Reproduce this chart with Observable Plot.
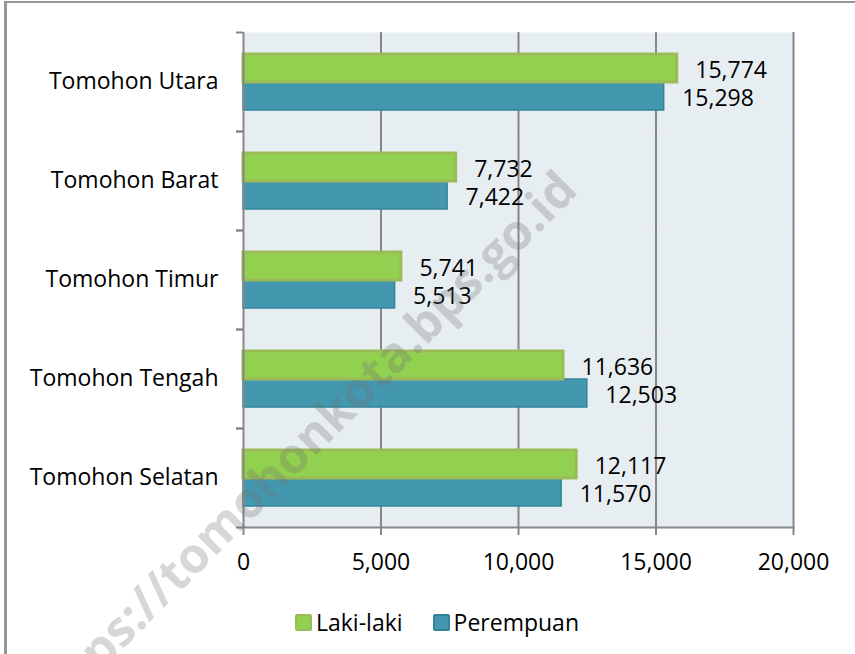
<!DOCTYPE html>
<html>
<head>
<meta charset="utf-8">
<script src="https://cdn.jsdelivr.net/npm/d3@7"></script>
<script src="https://cdn.jsdelivr.net/npm/@observablehq/plot@0.6"></script>
<style>
  html, body { margin: 0; padding: 0; background: #fff; overflow: hidden; }
  #wrap { position: relative; width: 855px; height: 654px; overflow: hidden; font-family: 'Open Sans', sans-serif; }
  #border { position: absolute; left: 4px; top: 1px; width: 900px; height: 700px; border-left: 3px solid #969696; border-top: 2px solid #969696; box-sizing: border-box; }
  #chart { position: absolute; left: 0; top: 0; }
  #legend { position: absolute; top: 606px; left: 295px; display: flex; align-items: center; font-size: 23px; color: #000; }
  .sw { width: 13px; height: 13px; border-radius: 2px; display: inline-block; }
  .item { display: flex; align-items: center; }
  #wm { position: absolute; left: 300px; top: 445px; transform: translate(-50%, -50%) rotate(-45deg); font-size: 49px; font-weight: 700; color: rgba(110,110,110,0.28); white-space: nowrap; pointer-events: none; }
</style>
</head>
<body>
<div id="wrap">
  <div id="border"></div>
  <div id="chart"></div>
  <div id="legend"></div>
  <div id="wm">https://tomohonkota.bps.go.id</div>
</div>
<script>
const categories = ["Tomohon Utara", "Tomohon Barat", "Tomohon Timur", "Tomohon Tengah", "Tomohon Selatan"];
const series = ["Laki-laki", "Perempuan"];
const lakiLaki = [15774, 7732, 5741, 11636, 12117];
const perempuan = [15298, 7422, 5513, 12503, 11570];
const xTicks = [0, 5000, 10000, 15000, 20000];
const colors = ["#92D050", "#4397AF"];
const strokes = ["#9BBB59", "#31849B"];

const data = categories.flatMap((c, i) => [
  {kec: c, jk: series[0], v: lakiLaki[i]},
  {kec: c, jk: series[1], v: perempuan[i]}
]);
const fmt = d3.format(",");
const gridColor = "#878787";

const chart = Plot.plot({
  width: 855,
  height: 595,
  marginTop: 32,
  marginBottom: 68,
  marginLeft: 243,
  marginRight: 62,
  style: {fontFamily: "'Open Sans', sans-serif", fontSize: "23px", color: "#000", background: "transparent", overflow: "visible"},
  x: {domain: [0, 20000]},
  y: {domain: series, paddingInner: 0, paddingOuter: 0.707, axis: null},
  fy: {domain: categories, padding: 0},
  marks: [
    Plot.frame({fill: "#E7EEF2", stroke: null}),
    Plot.ruleX(xTicks.slice(1), {stroke: gridColor, strokeWidth: 2}),
    Plot.barX(data.filter(d => d.jk === series[1]), {fy: "kec", y: "jk", x: "v", fill: colors[1], stroke: strokes[1], strokeWidth: 1.5}),
    Plot.barX(data.filter(d => d.jk === series[0]), {fy: "kec", y: "jk", x: "v", fill: colors[0], stroke: strokes[0], strokeWidth: 3}),
    Plot.text(data, {fy: "kec", y: "jk", x: "v", text: d => fmt(d.v), textAnchor: "start", dx: 18, dy: 2, fill: "#000", fontSize: 23}),
    Plot.ruleX([0], {stroke: gridColor, strokeWidth: 2}),
    Plot.axisFy({anchor: "left", tickSize: 0, tickPadding: 25, label: null, fontSize: 23, fill: "#000"}),
    Plot.axisFy({anchor: "left", tickSize: 7, tickFormat: () => "", dy: -49.5, stroke: gridColor, strokeWidth: 2, label: null}),
    Plot.axisFy({anchor: "left", tickSize: 7, tickFormat: () => "", dy: 49.5, stroke: gridColor, strokeWidth: 2, label: null}),
    Plot.axisX({anchor: "bottom", ticks: xTicks, tickSize: 8, tickPadding: 18, tickFormat: d => fmt(d), stroke: gridColor, strokeWidth: 2, label: null, fontSize: 23, fill: "#000"}),
    Plot.frame({anchor: "bottom", facetAnchor: "bottom", stroke: gridColor, strokeWidth: 2})
  ]
});
document.getElementById("chart").appendChild(chart);

const legend = document.getElementById("legend");
series.forEach((s, i) => {
  const item = document.createElement("div");
  item.className = "item";
  item.style.marginRight = i === 0 ? "30px" : "0";
  const sw = document.createElement("span");
  sw.className = "sw";
  sw.style.background = colors[i];
  sw.style.border = `2px solid ${strokes[i]}`;
  sw.style.marginRight = "4px";
  const t = document.createElement("span");
  t.textContent = s;
  item.appendChild(sw);
  item.appendChild(t);
  legend.appendChild(item);
});
</script>
</body>
</html>
